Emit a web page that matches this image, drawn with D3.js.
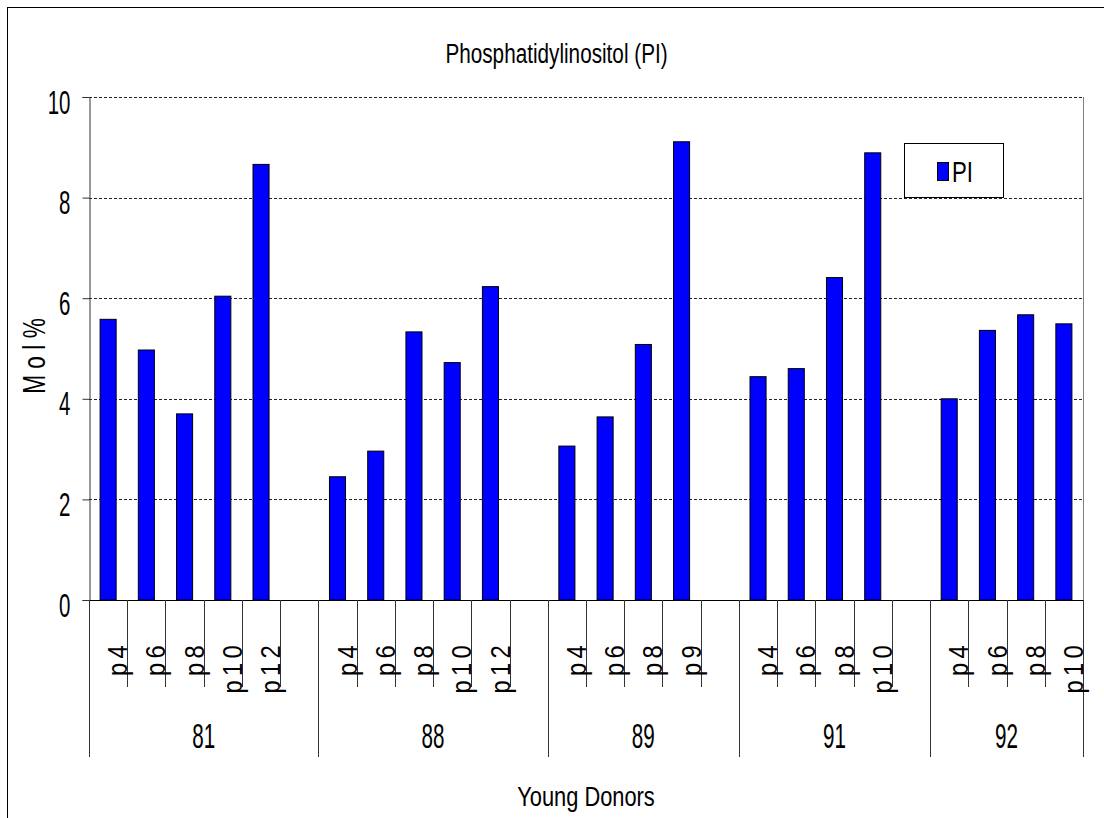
<!DOCTYPE html>
<html>
<head>
<meta charset="utf-8">
<script src="https://cdn.jsdelivr.net/npm/d3@7"></script>
<style>
  html, body { margin: 0; padding: 0; background: #fff; }
  svg { display: block; }
  text { font-family: "Liberation Sans", Arial, sans-serif; fill: #000; }
</style>
</head>
<body>
<svg id="chart" width="1104" height="818"></svg>
<script>
// ---- data ----
const title = "Phosphatidylinositol (PI)";
const yTitle = "M o l %";
const xTitle = "Young Donors";
const seriesName = "PI";
const groups = ["81", "88", "89", "91", "92"];
const passages81 = ["p4", "p6", "p8", "p10", "p12", ""];
const passages88 = ["p4", "p6", "p8", "p10", "p12", ""];
const passages89 = ["p4", "p6", "p8", "p9", ""];
const passages91 = ["p4", "p6", "p8", "p10", ""];
const passages92 = ["p4", "p6", "p8", "p10"];
const values81 = [5.58, 4.97, 3.70, 6.04, 8.66, null];
const values88 = [2.45, 2.96, 5.33, 4.72, 6.23, null];
const values89 = [3.06, 3.64, 5.08, 9.11, null];
const values91 = [4.44, 4.60, 6.41, 8.89, null];
const values92 = [4.00, 5.36, 5.67, 5.49];
const yTicks = [0, 2, 4, 6, 8, 10];

const passages = [passages81, passages88, passages89, passages91, passages92];
const values = [values81, values88, values89, values91, values92];

// ---- build rows ----
const rows = [];
groups.forEach((g, gi) => {
  passages[gi].forEach((p, pi) => {
    rows.push({ key: gi + "_" + pi, group: g, gi, label: p, value: values[gi][pi] });
  });
});

const svg = d3.select("#chart");
const L = 89, R = 1083, T = 97, B = 600;

const x = d3.scaleBand().domain(rows.map(d => d.key)).range([L, R]).padding(0);
const y = d3.scaleLinear().domain([0, 10]).range([B, T]);
const bw = x.bandwidth();
const barW = bw * 0.42;

function label(parent, str, tx, ty, size, sx, anchor, rot) {
  return parent.append("text")
    .attr("transform", `translate(${tx},${ty}) rotate(${rot || 0}) scale(${sx},1)`)
    .attr("text-anchor", anchor)
    .style("font-size", size + "px")
    .text(str);
}

// outer border
svg.append("rect").attr("x", 7.5).attr("y", 7.5).attr("width", 1110).attr("height", 840)
  .attr("fill", "none").attr("stroke", "#000").attr("stroke-width", 1);

// title
label(svg, title, (L + R) / 2 - 29.5, 63, 28, 0.74, "middle");

// gridlines
svg.append("g").selectAll("line").data(yTicks.filter(t => t > 0)).join("line")
  .attr("x1", L).attr("x2", R)
  .attr("y1", d => Math.round(y(d)) + 0.5).attr("y2", d => Math.round(y(d)) + 0.5)
  .attr("stroke", "#222").attr("stroke-width", 1).attr("stroke-dasharray", "3,2");

// right plot edge
svg.append("line").attr("x1", R + 0.5).attr("x2", R + 0.5).attr("y1", y(10)).attr("y2", B)
  .attr("stroke", "#808080").attr("stroke-width", 1);

// bars
svg.append("g").selectAll("rect").data(rows.filter(d => d.value != null)).join("rect")
  .attr("x", d => x(d.key) + (bw - barW) / 2)
  .attr("width", barW)
  .attr("y", d => y(d.value))
  .attr("height", d => B - y(d.value))
  .attr("fill", "#0000ff").attr("stroke", "#000").attr("stroke-width", 1);

// y axis
const yAxis = svg.append("g").attr("transform", `translate(${L + 0.5},0)`)
  .call(d3.axisLeft(y).tickValues(yTicks).tickSize(7).tickFormat(d3.format("d")));
yAxis.select(".domain").attr("stroke", "#333");
yAxis.selectAll(".tick line").attr("stroke", "#333");
yAxis.selectAll(".tick text")
  .attr("x", null).attr("dy", null)
  .attr("transform", "translate(-19,16) scale(0.62,1)")
  .attr("text-anchor", "end")
  .style("font-size", "33px").style("font-family", '"Liberation Sans", Arial, sans-serif')
  .attr("fill", "#000");

// y title
label(svg, yTitle, 45, 356, 30.7, 0.74, "middle", -90);

// x axis baseline
svg.append("line").attr("x1", L).attr("x2", R).attr("y1", B + 0.5).attr("y2", B + 0.5)
  .attr("stroke", "#000").attr("stroke-width", 1);

// slot boundary ticks: short within group, long at group boundaries
const boundaries = [];
rows.forEach((d, i) => {
  const isGroupStart = i === 0 || rows[i - 1].gi !== d.gi;
  boundaries.push({ pos: x(d.key), long: isGroupStart });
});
boundaries.push({ pos: R, long: true });
svg.append("g").selectAll("line").data(boundaries).join("line")
  .attr("x1", d => Math.round(d.pos) + 0.5).attr("x2", d => Math.round(d.pos) + 0.5)
  .attr("y1", B).attr("y2", d => d.long ? 757 : 687)
  .attr("stroke", "#333").attr("stroke-width", 1);

// passage labels (rotated)
const pl = svg.append("g");
rows.filter(d => d.label).forEach(d => {
  pl.append("text")
    .attr("transform", `translate(${x(d.key) + bw},641) rotate(-90) scale(0.85,1)`)
    .attr("text-anchor", "end")
    .style("font-size", "28px")
    .style("letter-spacing", "5px")
    .text(d.label);
});

// group labels
groups.forEach((g, gi) => {
  const keys = rows.filter(d => d.gi === gi).map(d => d.key);
  const x0 = x(keys[0]), x1 = x(keys[keys.length - 1]) + bw;
  label(svg, g, (x0 + x1) / 2, 748, 35, 0.59, "middle");
});

// x title
label(svg, xTitle, (L + R) / 2, 806, 28, 0.78, "middle");

// legend
const lg = svg.append("g");
lg.append("rect").attr("x", 904.5).attr("y", 143.5).attr("width", 99).attr("height", 54)
  .attr("fill", "#fff").attr("stroke", "#000").attr("stroke-width", 1);
lg.append("rect").attr("x", 937.5).attr("y", 162.5).attr("width", 11).attr("height", 18)
  .attr("fill", "#0000ff").attr("stroke", "#000").attr("stroke-width", 1);
label(lg, seriesName, 952, 182, 30, 0.74, "start");
</script>
</body>
</html>
